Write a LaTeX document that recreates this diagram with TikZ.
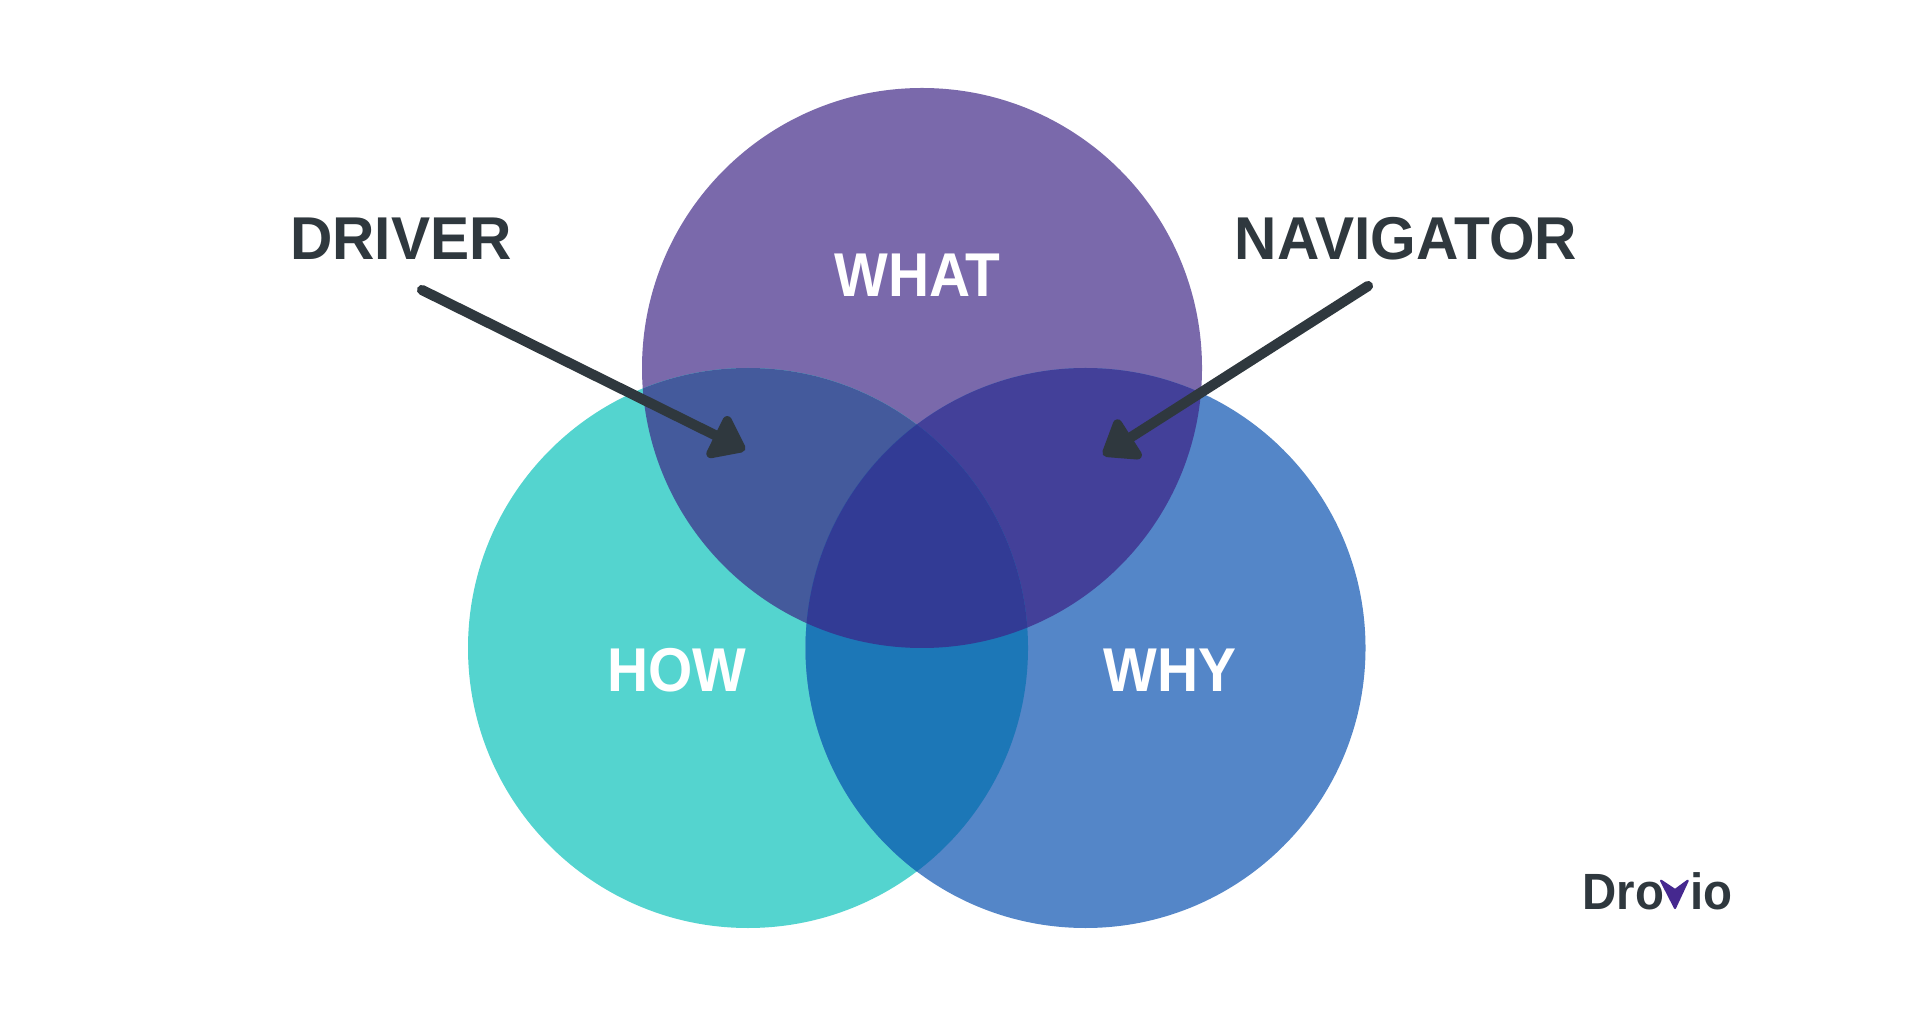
\documentclass[tikz,border=0pt]{standalone}
\usepackage{xcolor}
\usepackage{fontspec}
\setmainfont{Liberation Sans}
\usetikzlibrary{arrows.meta}
\definecolor{whatPurple}{HTML}{7A69AB}
\definecolor{howTeal}{HTML}{54D4CF}
\definecolor{whyBlue}{HTML}{5486C8}
\definecolor{whatHow}{HTML}{445A9C}
\definecolor{whatWhy}{HTML}{434099}
\definecolor{howWhy}{HTML}{1C77B7}
\definecolor{allThree}{HTML}{323B95}
\definecolor{inkDark}{HTML}{2F383E}
\definecolor{logoPurple}{HTML}{45288F}

\begin{document}
\begin{tikzpicture}[
    rolelabel/.style={font=\fontsize{17.2}{20}\selectfont\bfseries\addfontfeature{FakeStretch=0.97}, text=inkDark, inner sep=0pt},
    venlabel/.style={font=\fontsize{17.6}{20}\selectfont\bfseries\addfontfeature{FakeStretch=0.92}, text=white, inner sep=0pt},
    pointer/.style={draw=inkDark, line width=2.9pt, line cap=round, -{Triangle[round,length=10.5pt,width=15pt]}}
  ]
    \useasboundingbox (0,0) rectangle (19.2,10.16);
    \fill[white] (0,0) rectangle (19.2,10.16);
    \coordinate (what) at (9.22,6.48);
    \coordinate (how) at (7.48,3.68);
    \coordinate (why) at (10.855,3.68);
    % circles, then the overlaps
    \fill[whatPurple] (what) circle (2.8);
    \fill[howTeal] (how) circle (2.8);
    \fill[whyBlue] (why) circle (2.8);
    \begin{scope}
      \clip (what) circle (2.8);
      \fill[whatHow] (how) circle (2.8);
      \fill[whatWhy] (why) circle (2.8);
    \end{scope}
    \begin{scope}
      \clip (how) circle (2.8);
      \fill[howWhy] (why) circle (2.8);
      \clip (why) circle (2.8);
      \fill[allThree] (what) circle (2.8);
    \end{scope}
    \node[venlabel] (whatlabel) at (9.175,7.41) {WHAT};
    \node[venlabel] (howlabel) at (6.77,3.46) {HOW};
    \node[venlabel] (whylabel) at (11.7,3.46) {WHY};
    \node[rolelabel] (driver) at (4.01,7.775) {DRIVER};
    \node[rolelabel] (navigator) at (14.06,7.775) {NAVIGATOR};
    \coordinate (driverstart) at (4.22,7.26);
    \coordinate (drivertip) at (7.45,5.66);
    \coordinate (navstart) at (13.68,7.3);
    \coordinate (navtip) at (11.03,5.61);
    \draw[pointer] (driverstart) -- (drivertip);
    \draw[pointer] (navstart) -- (navtip);
    % logo
    \node[font=\fontsize{14.5}{17}\selectfont\bfseries\addfontfeature{FakeStretch=0.93}, text=inkDark, inner sep=0pt, anchor=base] (logo) at (16.575,1.07) {Dro\textcolor{white}{v}io};
    \fill[logoPurple, draw=logoPurple, line width=0.6pt, line join=round] (16.61,1.353) -- (16.75,1.26) -- (16.877,1.353) -- (16.75,1.08) -- cycle;
  \end{tikzpicture}
\end{document}
